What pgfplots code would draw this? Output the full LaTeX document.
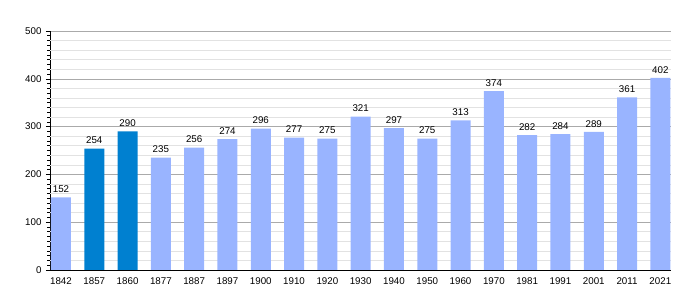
\documentclass[border=0pt]{standalone}
\usepackage{pgfplots}
\pgfplotsset{compat=1.18}
\usepackage{fontspec}
\setmainfont{Liberation Sans}
\definecolor{lightbar}{RGB}{153,180,255}
\definecolor{darkbar}{RGB}{0,128,208}
\definecolor{majgrid}{RGB}{170,170,170}
\definecolor{mingrid}{RGB}{226,226,226}
\begin{document}
\begin{tikzpicture}
\path[use as bounding box] (-50bp,-30bp) rectangle (650bp,270bp);
\begin{axis}[
  at={(0,0)}, anchor=south west,
  scale only axis, width=621bp, height=239bp,
  xmin=-0.33, xmax=18.32, ymin=0, ymax=500,
  axis x line=bottom, axis y line=left,
  axis line style={-, black, line width=0.8pt},
  xtick={0,...,18},
  xticklabels={1842,1857,1860,1877,1887,1897,1900,1910,1920,1930,1940,1950,1960,1970,1981,1991,2001,2011,2021},
  x tick style={draw=none},
  ytick={0,100,...,500},
  minor ytick={10,20,...,490},
  ytick align=outside,
  major tick length=4bp, minor tick length=2.5bp,
  y tick style={black, line width=0.6pt},
  ymajorgrids,
  major grid style={majgrid, line width=0.6pt},
  extra y ticks={20,40,60,80,120,140,160,180,220,240,260,280,320,340,360,380,420,440,460,480},
  extra y tick labels={},
  extra y tick style={grid=major, major grid style={mingrid, line width=0.6pt}, major tick length=0pt},
  tick label style={font=\fontsize{9.8}{11}\selectfont},
  yticklabel style={xshift=-1bp},
  /pgf/number format/assume math mode=true,
  ybar, bar width=20bp, bar shift=0pt,
  nodes near coords,
  every node near coord/.append style={font=\fontsize{9.8}{11}\selectfont, black, inner sep=3bp, yshift=1.5bp},
]
\addplot[fill=lightbar, draw=none] coordinates {
 (0,152) (3,235) (4,256) (5,274) (6,296) (7,277) (8,275) (9,321) (10,297)
 (11,275) (12,313) (13,374) (14,282) (15,284) (16,289) (17,361) (18,402)};
\addplot[fill=darkbar, draw=none] coordinates {(1,254) (2,290)};
\end{axis}
\end{tikzpicture}
\end{document}
